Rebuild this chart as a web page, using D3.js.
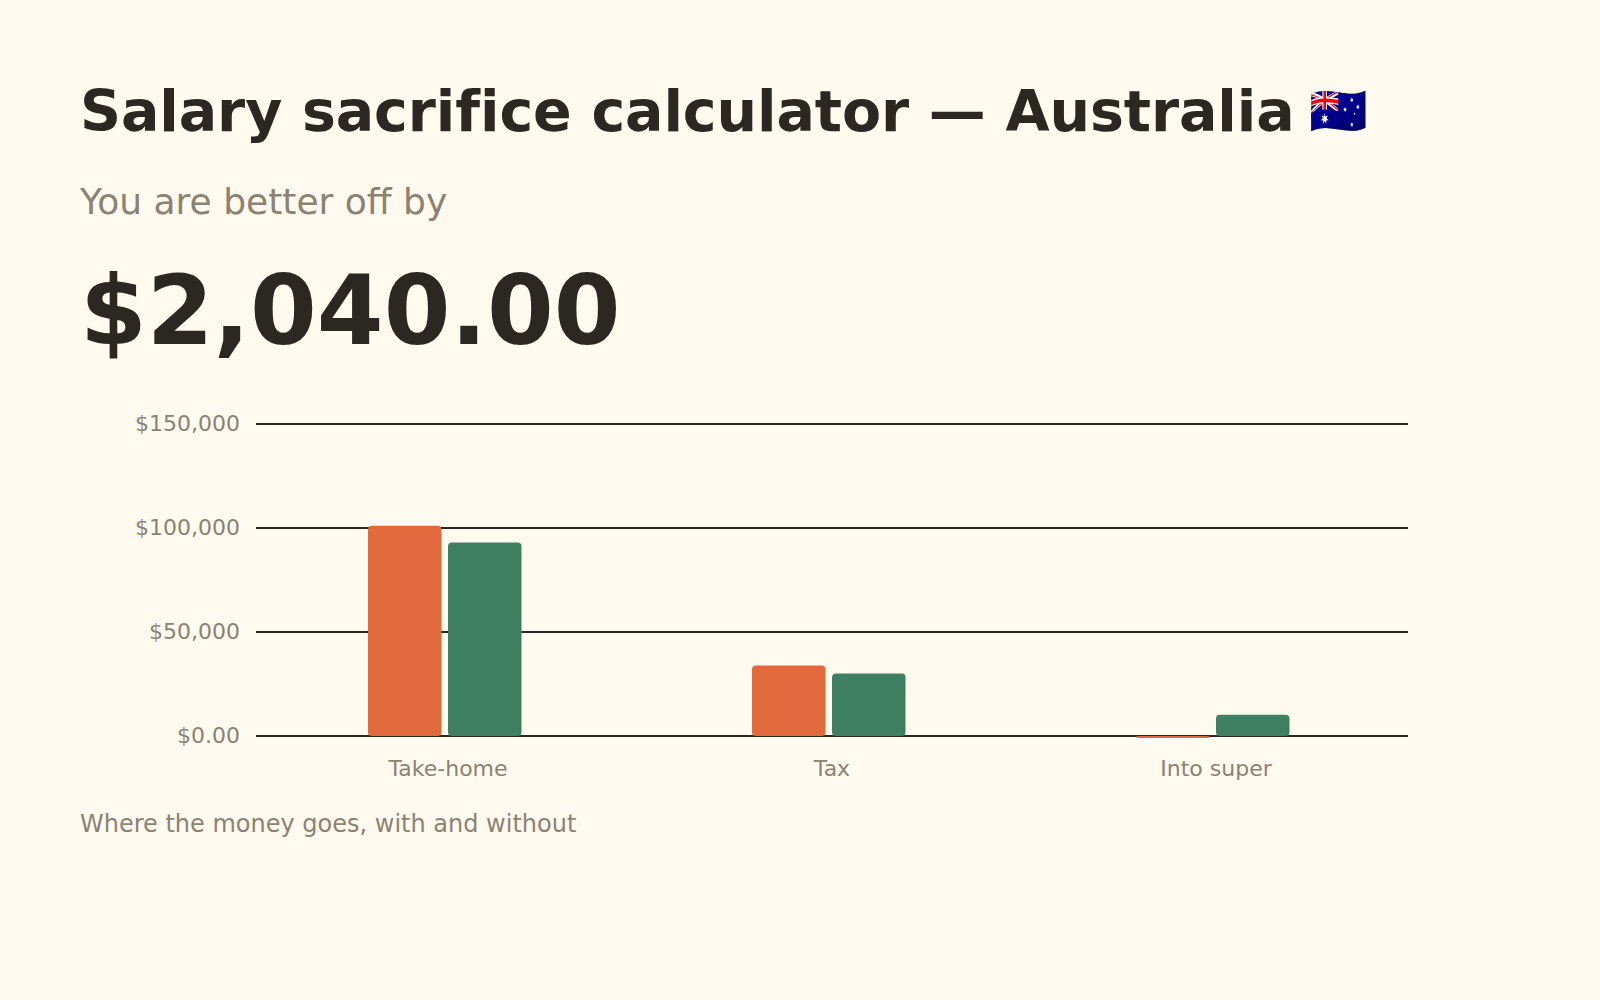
<!DOCTYPE html>
<html>
<head>
<meta charset="utf-8">
<script src="https://cdn.jsdelivr.net/npm/d3@7"></script>
<style>
  html, body { margin: 0; padding: 0; background: #FFFAEF; }
  svg { display: block; }
</style>
</head>
<body>
<svg id="chart" width="1600" height="1000"></svg>
<script>
const titleText = "Salary sacrifice calculator \u2014 Australia";
const titleFlag = "\u{1F1E6}\u{1F1FA}";
const subtitleText = "You are better off by";
const headlineValue = "$2,040.00";
const footerText = "Where the money goes, with and without";

const categories = ["Take-home", "Tax", "Into super"];
const seriesNames = ["Without", "With"];
const withoutValues = [101140, 33860, 0];
const withValues = [92980, 30020, 10200];
const tickValues = [0, 50000, 100000, 150000];
const tickLabels = ["$0.00", "$50,000", "$100,000", "$150,000"];
const seriesColors = ["#E1693E", "#3F8062"];

(function () {
const svg = d3.select("#chart");
const ink = "#2B2822";
const muted = "#8C8271";
const font = "'DejaVu Sans', sans-serif";

svg.append("rect").attr("width", 1600).attr("height", 1000).attr("fill", "#FFFAEF");

const title = svg.append("text").attr("x", 80).attr("y", 131)
  .attr("font-family", font).attr("font-weight", "bold").attr("font-size", 57)
  .attr("letter-spacing", "-0.1px")
  .attr("fill", ink);
title.append("tspan").text(titleText + " ");
title.append("tspan").attr("font-size", 47).attr("dx", -5).attr("dy", -4).text(titleFlag);

svg.append("text").attr("x", 80).attr("y", 214)
  .attr("font-family", font).attr("font-size", 36)
  .attr("fill", muted).text(subtitleText);

svg.append("text").attr("x", 80).attr("y", 344)
  .attr("font-family", font).attr("font-weight", "bold").attr("font-size", 96)
  .attr("fill", ink).text(headlineValue);

const plotLeft = 256, plotRight = 1408, plotTop = 424, plotBottom = 736;

const y = d3.scaleLinear().domain([0, 150000]).range([plotBottom, plotTop]);
const x0 = d3.scaleBand().domain(categories).range([plotLeft, plotRight])
  .paddingInner(0.5833).paddingOuter(0.29167);
const x1 = d3.scaleBand().domain(seriesNames).range([0, x0.bandwidth()]);

const rows = categories.map((c, i) => ({
  cat: c,
  vals: [
    { s: seriesNames[0], v: withoutValues[i], c: seriesColors[0] },
    { s: seriesNames[1], v: withValues[i], c: seriesColors[1] }
  ]
}));

const yAxis = d3.axisLeft(y).tickValues(tickValues)
  .tickFormat((d, i) => tickLabels[i])
  .tickSize(-(plotRight - plotLeft)).tickPadding(16).offset(0);
const gy = svg.append("g").attr("transform", `translate(${plotLeft},0)`).call(yAxis);
gy.select(".domain").remove();
gy.selectAll(".tick line").attr("stroke", ink).attr("stroke-width", 2);
gy.selectAll(".tick text").attr("font-family", font).attr("font-size", 22)
  .attr("fill", muted).attr("dy", "0.34em");

const groups = svg.append("g").selectAll("g").data(rows).join("g")
  .attr("transform", d => `translate(${x0(d.cat)},0)`);
groups.selectAll("rect").data(d => d.vals).join("rect")
  .attr("x", d => x1(d.s))
  .attr("width", x1.bandwidth() - 6.5)
  .attr("y", d => d.v > 0 ? y(d.v) : y(0))
  .attr("height", d => Math.max(Math.abs(y(0) - y(d.v)), 2))
  .attr("rx", 4).attr("ry", d => d.v > 0 ? 4 : 1)
  .attr("fill", d => d.c);

const xAxis = d3.axisBottom(x0).tickSize(0).tickPadding(0).offset(0);
const gx = svg.append("g").attr("transform", `translate(0,${plotBottom})`).call(xAxis);
gx.select(".domain").remove();
gx.selectAll(".tick text").attr("font-family", font).attr("font-size", 22)
  .attr("fill", muted).attr("dy", null).attr("y", 40);

svg.append("text").attr("x", 80).attr("y", 832)
  .attr("font-family", font).attr("font-size", 24)
  .attr("fill", muted).text(footerText);
})();
</script>
</body>
</html>
